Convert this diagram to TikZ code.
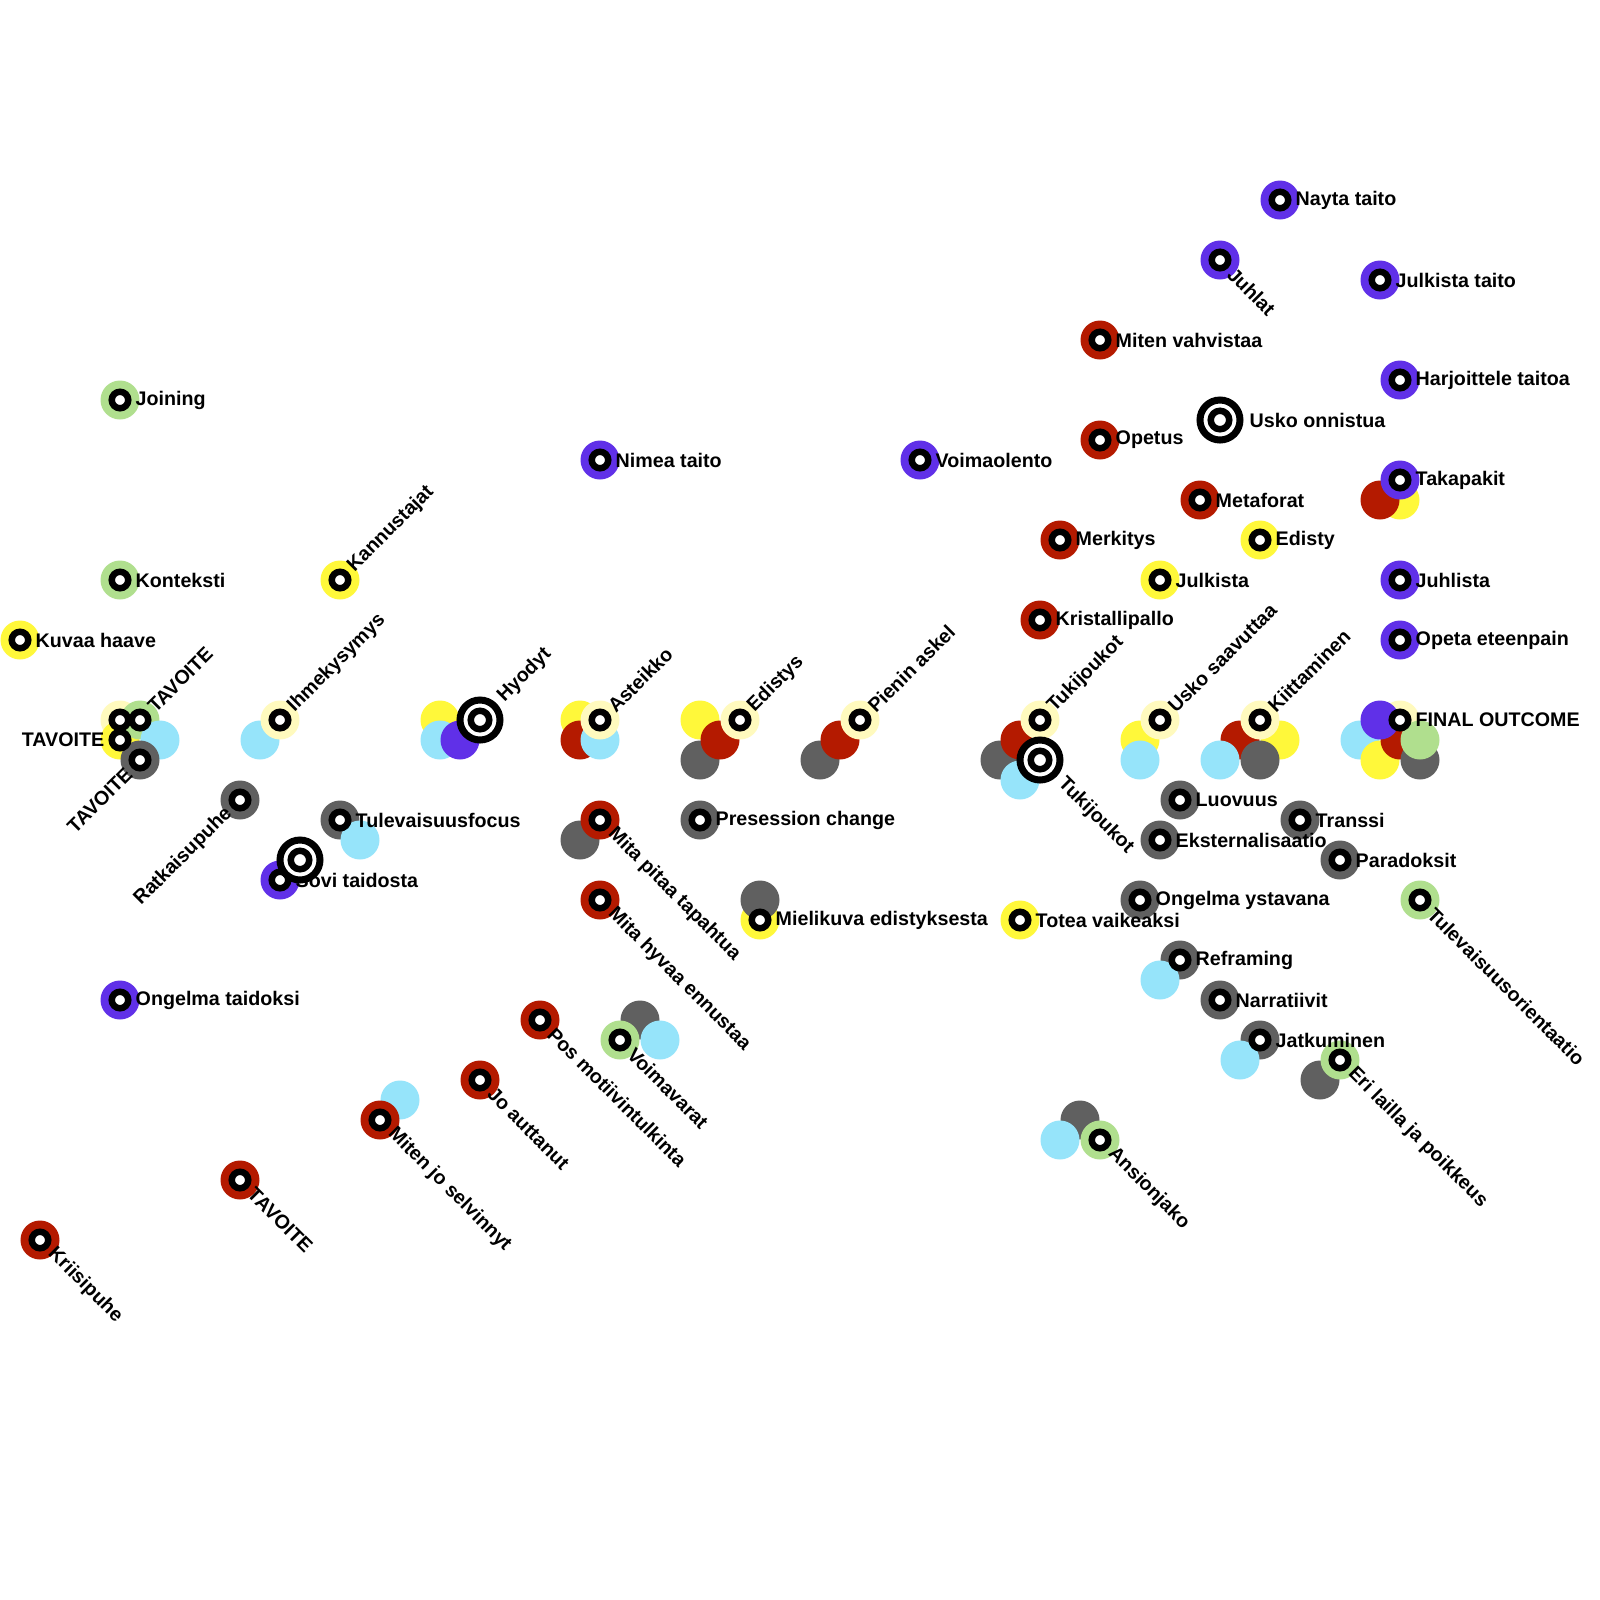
\documentclass[tikz,border=0pt]{standalone}
\usepackage{fontspec}
\setmainfont{Liberation Sans}
\usepackage{tikz}

\definecolor{lnPurple}{RGB}{96,48,232}
\definecolor{lnRed}{RGB}{180,26,0}
\definecolor{lnYellow}{RGB}{255,248,58}
\definecolor{lnPale}{RGB}{255,250,190}
\definecolor{lnGreen}{RGB}{176,223,142}
\definecolor{lnBlue}{RGB}{150,228,250}
\definecolor{lnGray}{RGB}{96,96,96}

\begin{document}
\begin{tikzpicture}[x=0.2cm,y=-0.2cm,
		disc/.style={circle,inner sep=0pt,minimum size=0.39cm},
		station/.style={circle,draw=black,fill=white,line width=0.065cm,inner sep=0pt,minimum size=0.165cm},
		hub/.style={circle,draw=black,fill=white,line width=0.07cm,inner sep=0pt,minimum size=0.4cm},
		lbl/.style={inner sep=0pt,font=\bfseries\fontsize{5.6}{6.7}\selectfont}]
	\fill[white] (0,0) rectangle (80,80);
	\foreach \c/\x/\y [count=\i] in {lnPurple/64/10, lnPurple/61/13, lnPurple/69/14, lnRed/55/17, lnPurple/70/19, lnRed/55/22,
			lnPurple/30/23, lnPurple/46/23, lnYellow/70/25, lnRed/69/25, lnPurple/70/24, lnRed/60/25, lnRed/53/27,
			lnYellow/63/27, lnYellow/58/29, lnPurple/70/29, lnRed/52/31, lnPurple/70/32, lnGreen/6/20, lnGreen/6/29,
			lnYellow/17/29, lnYellow/1/32, lnPale/6/36, lnYellow/6/37, lnGreen/7/36, lnBlue/8/37, lnGray/7/38,
			lnBlue/13/37, lnPale/14/36, lnYellow/22/36, lnBlue/22/37, lnPurple/23/37,
			lnYellow/29/36, lnRed/29/37, lnBlue/30/37, lnPale/30/36,
			lnYellow/35/36, lnGray/35/38, lnRed/36/37, lnPale/37/36,
			lnGray/41/38, lnRed/42/37, lnPale/43/36,
			lnGray/50/38, lnRed/51/37, lnBlue/51/39, lnPale/52/36,
			lnYellow/57/37, lnBlue/57/38, lnPale/58/36,
			lnRed/62/37, lnYellow/64/37, lnBlue/61/38, lnGray/63/38, lnPale/63/36,
			lnPale/70/36, lnBlue/68/37, lnYellow/69/38, lnRed/70/37, lnPurple/69/36, lnGray/71/38, lnGreen/71/37,
			lnGray/59/40, lnGray/65/41, lnGray/58/42, lnGray/67/43, lnGray/57/45, lnGreen/71/45, lnYellow/51/46,
			lnGray/59/48, lnBlue/58/49, lnGray/61/50, lnGray/63/52, lnBlue/62/53, lnGray/66/54, lnGreen/67/53,
			lnGray/54/56, lnBlue/53/57, lnGreen/55/57,
			lnYellow/38/46, lnGray/38/45, lnGray/35/41, lnGray/29/42, lnRed/30/41, lnRed/30/45,
			lnGray/32/51, lnGreen/31/52, lnBlue/33/52, lnRed/27/51, lnRed/24/54, lnBlue/20/55, lnRed/19/56,
			lnRed/12/59, lnRed/2/62, lnPurple/6/50, lnGray/12/40, lnGray/17/41, lnBlue/18/42, lnPurple/14/44}
		\node[disc,fill=\c] (d\i) at (\x,\y) {};
	\node[station] (s0) at (6,36) {};
	\foreach \x/\y/\t [count=\i] in {64/10/Nayta taito, 69/14/Julkista taito, 55/17/Miten vahvistaa, 70/19/Harjoittele taitoa,
			55/22/Opetus, 30/23/Nimea taito, 46/23/Voimaolento, 70/24/Takapakit, 60/25/Metaforat, 53/27/Merkitys,
			63/27/Edisty, 58/29/Julkista, 70/29/Juhlista, 52/31/Kristallipallo, 70/32/Opeta eteenpain, 6/20/Joining,
			6/29/Konteksti, 1/32/Kuvaa haave, 70/36/FINAL OUTCOME, 59/40/Luovuus, 65/41/Transsi, 58/42/Eksternalisaatio,
			67/43/Paradoksit, 57/45/Ongelma ystavana, 51/46/Totea vaikeaksi, 59/48/Reframing, 61/50/Narratiivit,
			63/52/Jatkuminen, 38/46/Mielikuva edistyksesta, 35/41/Presession change, 6/50/Ongelma taidoksi,
			17/41/Tulevaisuusfocus, 14/44/Sovi taidosta} {
		\node[station] (r\i) at (\x,\y) {};
		\path (r\i.center) ++(0.75,0) node[lbl,anchor=west] (rl\i) {\t};
	}
	\foreach \x/\y/\t [count=\i] in {17/29/Kannustajat, 7/36/TAVOITE, 14/36/Ihmekysymys, 30/36/Asteikko, 37/36/Edistys,
			43/36/Pienin askel, 52/36/Tukijoukot, 58/36/Usko saavuttaa, 63/36/Kiittaminen} {
		\node[station] (u\i) at (\x,\y) {};
		\path (u\i.center) ++(0.53,-0.53) node[lbl,anchor=west,rotate=45] (ul\i) {\t};
	}
	\foreach \x/\y/\t [count=\i] in {61/13/Juhlat, 71/45/Tulevaisuusorientaatio, 67/53/Eri lailla ja poikkeus, 55/57/Ansionjako,
			30/41/Mita pitaa tapahtua, 30/45/Mita hyvaa ennustaa, 31/52/Voimavarat, 27/51/Pos motiivintulkinta,
			24/54/Jo auttanut, 19/56/Miten jo selvinnyt, 12/59/TAVOITE, 2/62/Kriisipuhe} {
		\node[station] (w\i) at (\x,\y) {};
		\path (w\i.center) ++(0.53,0.53) node[lbl,anchor=west,rotate=-45] (wl\i) {\t};
	}
	\node[station] (l1) at (6,37) {};
	\node[lbl,anchor=east,xshift=-0.15cm] (ll1) at (l1.center) {TAVOITE};
	\foreach \x/\y/\t [count=\i] in {7/38/TAVOITE, 12/40/Ratkaisupuhe} {
		\node[station] (b\i) at (\x,\y) {};
		\path (b\i.center) ++(-0.53,0.53) node[lbl,anchor=east,rotate=45] (bl\i) {\t};
	}
	\foreach \x/\y [count=\i] in {24/36, 61/21, 52/38, 15/43} {
		\node[hub] (h\i) at (\x,\y) {};
		\node[station,minimum size=0.185cm] (hc\i) at (h\i.center) {};
	}
	\path (h1.center) ++(1.03,-1.03) node[lbl,anchor=west,rotate=45] (hl1) {Hyodyt};
	\path (h2.center) ++(1.45,0) node[lbl,anchor=west] (hl2) {Usko onnistua};
	\path (h3.center) ++(1.03,1.03) node[lbl,anchor=west,rotate=-45] (hl3) {Tukijoukot};
\end{tikzpicture}
\end{document}
